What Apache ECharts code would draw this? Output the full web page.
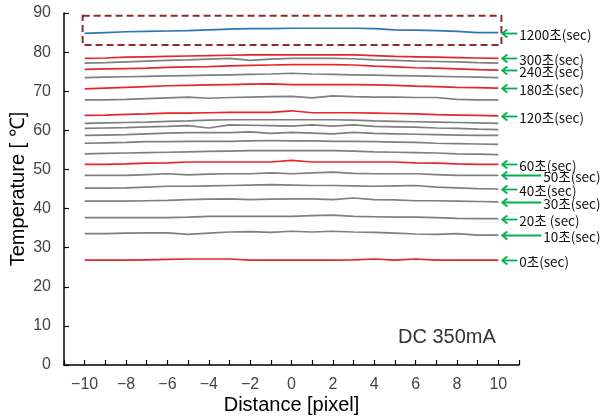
<!DOCTYPE html>
<html>
<head>
<meta charset="utf-8">
<script src="https://cdn.jsdelivr.net/npm/echarts@6/dist/echarts.min.js"></script>
<style>
html, body { margin: 0; padding: 0; background: #fff; }
#chart { width: 602px; height: 418px; }
</style>
</head>
<body>
<div id="chart"></div>
<script>
// Pixel positions along the profile line
const distance = [-10, -9, -8, -7, -6, -5, -4, -3, -2, -1, 0, 1, 2, 3, 4, 5, 6, 7, 8, 9, 10];

// Temperature profiles (°C) at each elapsed time
const t1200 = [84.8, 85.0, 85.2, 85.3, 85.4, 85.5, 85.7, 85.9, 86.0, 86.0, 86.1, 86.1, 86.1, 86.1, 86.0, 85.7, 85.6, 85.5, 85.3, 85.0, 85.0];
const t300 = [78.4, 78.5, 78.7, 78.8, 78.9, 79.0, 79.1, 79.2, 79.3, 79.3, 79.3, 79.3, 79.3, 79.3, 79.1, 78.9, 78.8, 78.7, 78.6, 78.5, 78.4];
const t270 = [77.2, 77.3, 77.5, 77.7, 77.9, 78.0, 78.2, 78.4, 77.9, 78.2, 78.4, 78.4, 78.4, 78.3, 78.0, 77.9, 77.7, 77.6, 77.5, 77.3, 77.2];
const t240 = [75.6, 75.7, 75.8, 75.9, 76.1, 76.2, 76.3, 76.5, 76.6, 76.7, 76.8, 76.8, 76.8, 76.7, 76.4, 76.2, 76.0, 75.9, 75.7, 75.5, 75.4];
const t210 = [73.5, 73.6, 73.7, 73.8, 73.9, 74.0, 74.1, 74.2, 74.3, 74.4, 74.6, 74.4, 74.3, 74.2, 74.1, 74.0, 73.9, 73.8, 73.7, 73.6, 73.5];
const t180 = [70.6, 70.8, 71.0, 71.2, 71.4, 71.5, 71.6, 71.7, 71.8, 71.9, 71.7, 71.7, 71.7, 71.7, 71.6, 71.5, 71.3, 71.2, 71.0, 70.9, 70.8];
const t150 = [67.8, 67.8, 67.9, 68.1, 68.3, 68.5, 68.2, 68.4, 68.5, 68.6, 68.7, 68.3, 68.8, 68.6, 68.5, 68.5, 68.4, 68.4, 67.9, 67.8, 67.8];
const t120 = [63.8, 63.9, 64.1, 64.2, 64.4, 64.4, 64.5, 64.6, 64.6, 64.6, 65.0, 64.5, 64.5, 64.5, 64.4, 64.3, 64.2, 64.0, 63.9, 63.8, 63.7];
const t110 = [61.8, 61.9, 62.0, 62.1, 62.3, 62.4, 62.6, 62.7, 62.7, 62.7, 62.7, 62.7, 62.7, 62.6, 62.4, 62.3, 62.2, 62.1, 62.0, 61.9, 61.8];
const t100 = [60.5, 60.6, 60.7, 60.9, 61.0, 61.2, 60.6, 61.4, 61.3, 61.2, 61.1, 61.4, 61.1, 61.4, 61.0, 60.9, 60.8, 60.6, 60.5, 60.3, 60.2];
const t90 = [58.7, 58.8, 58.9, 59.1, 59.3, 59.4, 59.4, 59.4, 59.6, 59.2, 59.5, 59.3, 59.1, 59.5, 59.2, 59.1, 59.0, 58.9, 58.8, 58.7, 58.7];
const t80 = [56.7, 56.8, 56.9, 57.1, 57.1, 57.2, 57.2, 57.2, 57.3, 57.4, 57.3, 57.3, 57.2, 57.2, 57.1, 57.0, 56.9, 56.7, 56.6, 56.5, 56.4];
const t70 = [54.0, 54.1, 54.2, 54.3, 54.4, 54.5, 54.6, 54.7, 54.8, 54.8, 54.8, 54.8, 54.8, 54.7, 54.5, 54.4, 54.3, 54.2, 54.0, 53.9, 53.8];
const t60 = [51.3, 51.3, 51.4, 51.6, 51.7, 51.9, 51.9, 51.9, 51.9, 51.9, 52.3, 51.9, 51.9, 51.9, 51.9, 51.9, 51.7, 51.6, 51.4, 51.3, 51.3];
const t50 = [48.5, 48.5, 48.5, 48.7, 48.9, 48.6, 48.8, 48.9, 48.9, 49.1, 48.9, 49.1, 49.3, 49.0, 48.9, 48.9, 48.9, 48.7, 48.5, 48.5, 48.5];
const t40 = [45.2, 45.2, 45.3, 45.5, 45.7, 45.7, 45.8, 45.9, 46.0, 46.1, 46.0, 45.9, 45.9, 45.8, 45.7, 45.8, 45.9, 45.5, 45.3, 45.1, 45.0];
const t30 = [41.9, 41.9, 41.9, 42.0, 42.1, 42.3, 42.4, 42.5, 42.3, 42.4, 42.5, 42.5, 42.3, 42.7, 42.3, 42.2, 42.0, 42.0, 41.9, 41.8, 41.7];
const t20 = [37.7, 37.7, 37.7, 37.7, 37.7, 37.8, 38.0, 38.0, 38.0, 38.0, 38.0, 38.2, 38.3, 38.0, 37.9, 37.8, 37.8, 37.7, 37.5, 37.4, 37.4];
const t10 = [33.6, 33.6, 33.7, 33.8, 33.8, 33.4, 33.7, 34.0, 34.1, 33.9, 34.2, 34.0, 34.2, 34.0, 33.9, 33.7, 33.5, 33.4, 33.6, 33.2, 33.2];
const t0 = [26.8, 26.8, 26.8, 26.9, 27.0, 27.1, 27.1, 27.1, 26.8, 26.8, 26.8, 26.8, 26.8, 26.9, 27.1, 26.8, 27.1, 26.8, 26.8, 26.8, 26.8];

// Elapsed-time annotations on the right-hand side
const timeLabels = {
  1200: '1200초(sec)', 300: '300초(sec)', 240: '240초(sec)', 180: '180초(sec)',
  120: '120초(sec)', 60: '60초(sec)', 50: '50초(sec)', 40: '40초(sec)',
  30: '30초(sec)', 20: '20초 (sec)', 10: '10초(sec)', 0: '0초(sec)'
};

const profiles = [
  [0, t0], [10, t10], [20, t20], [30, t30], [40, t40], [50, t50], [60, t60],
  [70, t70], [80, t80], [90, t90], [100, t100], [110, t110], [120, t120],
  [150, t150], [180, t180], [210, t210], [240, t240], [270, t270], [300, t300],
  [1200, t1200]
];

const RED = '#E5262B', GRAY = '#7F7F7F', BLUE = '#2E75B6', GREEN = '#00B050';
const redTimes = [0, 60, 120, 180, 240, 300];
const longArrowTimes = [50, 30, 10];

function lineColor(sec) {
  if (sec === 1200) return BLUE;
  return redTimes.includes(sec) ? RED : GRAY;
}

const series = profiles.map(([sec, vals]) => {
  const s = {
    name: sec + 's',
    type: 'line',
    data: distance.map((x, i) => [x, vals[i]]),
    showSymbol: false,
    symbol: 'none',
    silent: true,
    z: sec === 1200 ? 4 : (redTimes.includes(sec) ? 3 : 2),
    lineStyle: { color: lineColor(sec), width: 1.7 }
  };
  if (sec === 1200) {
    // dashed frame around the steady-state profile
    s.markArea = {
      silent: true,
      itemStyle: {
        color: 'rgba(0,0,0,0)',
        borderColor: '#8B2D2D',
        borderWidth: 2,
        borderType: [7, 4]
      },
      label: { show: false },
      data: [[{ coord: [-10.1, 89.3] }, { coord: [10.15, 81.8] }]]
    };
  }
  return s;
});

const chart = echarts.init(document.getElementById('chart'), null, { renderer: 'canvas' });

chart.setOption({
  animation: false,
  backgroundColor: '#fff',
  grid: { left: 64, right: 83, top: 13, bottom: 53, outerBoundsMode: 'none', containLabel: false },
  xAxis: {
    type: 'value',
    min: -11, max: 11, interval: 1,
    name: 'Distance [pixel]',
    nameLocation: 'middle',
    nameGap: 30,
    nameMoveOverlap: false,
    nameTextStyle: { fontFamily: 'Liberation Sans', fontSize: 20, color: '#000' },
    axisLine: { show: true, onZero: false, lineStyle: { color: '#000', width: 1.5 } },
    axisTick: { show: true, inside: true, length: 5, lineStyle: { color: '#000', width: 1.2 } },
    axisLabel: {
      fontFamily: 'Liberation Sans', fontSize: 16, color: '#444', margin: 12,
      showMinLabel: true, showMaxLabel: true,
      formatter: v => (v % 2 === 0 && Math.abs(v) <= 10) ? String(v).replace('-', '\u2212') : ''
    },
    splitLine: { show: false }
  },
  yAxis: {
    type: 'value',
    min: 0, max: 90, interval: 10,
    name: 'Temperature [ ℃]',
    nameLocation: 'middle',
    nameGap: 36,
    nameMoveOverlap: false,
    nameTextStyle: { fontFamily: 'Liberation Sans', fontSize: 20, color: '#000' },
    axisLine: { show: true, onZero: false, lineStyle: { color: '#000', width: 1.5 } },
    axisTick: { show: true, inside: true, length: 5, lineStyle: { color: '#000', width: 1.2 } },
    axisLabel: { fontFamily: 'Liberation Sans', fontSize: 16, color: '#444', margin: 13, padding: [7, 0, 0, 0] },
    splitLine: { show: false }
  },
  series: series
});

// Green arrows and time labels pointing at the right end of each profile
const graphics = [];
profiles.forEach(([sec, vals]) => {
  if (!(sec in timeLabels)) return;
  const [px, py] = chart.convertToPixel({ gridIndex: 0 }, [distance[distance.length - 1], vals[vals.length - 1]]);
  const tipX = px + 4;
  const tailX = tipX + (longArrowTimes.includes(sec) ? 39 : 15);
  const y = Math.round(py) + 0.5;
  graphics.push({
    type: 'polyline',
    shape: { points: [[tailX, y], [tipX, y]] },
    style: { stroke: GREEN, lineWidth: 1.8, fill: null },
    silent: true, z: 10
  });
  graphics.push({
    type: 'polyline',
    shape: { points: [[tipX + 5, y - 4], [tipX, y], [tipX + 5, y + 4]] },
    style: { stroke: GREEN, lineWidth: 1.8, fill: null },
    silent: true, z: 10
  });
  graphics.push({
    type: 'text',
    x: tailX + 2,
    y: y + 1,
    style: {
      text: timeLabels[sec],
      fontFamily: 'Noto Sans CJK KR',
      fontSize: 13.5,
      fill: '#111',
      verticalAlign: 'middle',
      align: 'left'
    },
    silent: true, z: 10
  });
});

// Drive-current annotation inside the plot area
graphics.push({
  type: 'text',
  x: 398,
  y: 337,
  style: {
    text: 'DC 350mA',
    fontFamily: 'Liberation Sans',
    fontSize: 20,
    fill: '#333',
    verticalAlign: 'middle',
    align: 'left'
  },
  silent: true
});

chart.setOption({ graphic: graphics });
</script>
</body>
</html>
